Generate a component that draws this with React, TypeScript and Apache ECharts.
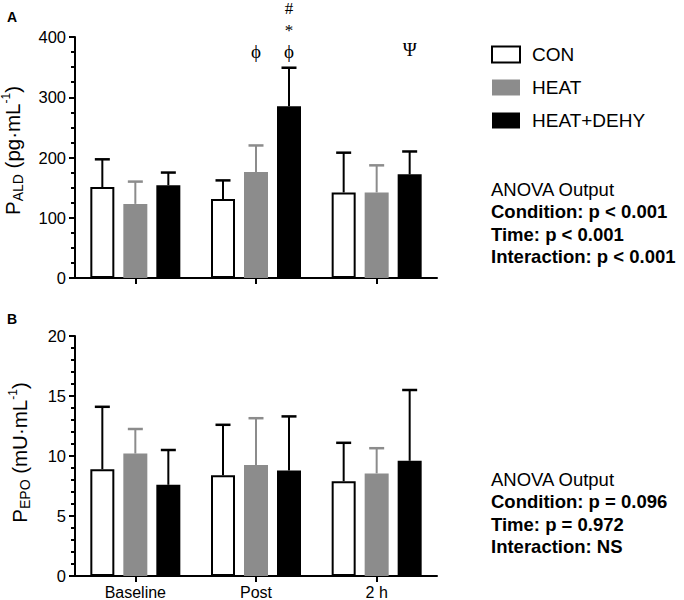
import React, { useEffect, useRef } from "react";
import * as echarts from "echarts";

// ---- data ----
const categories = ["Baseline", "Post", "2 h"];
const groups = ["CON", "HEAT", "HEAT+DEHY"];

// Panel A: plasma aldosterone (pg·mL-1), mean and SD
const aldCon = [151, 131, 142];
const aldHeat = [123, 176, 142];
const aldDehy = [154, 285, 172];
const aldConSd = [46, 31, 66];
const aldHeatSd = [37, 44, 45];
const aldDehySd = [21, 64, 38];

// Panel B: plasma EPO (mU·mL-1), mean and SD
const epoCon = [8.9, 8.4, 7.9];
const epoHeat = [10.2, 9.25, 8.55];
const epoDehy = [7.6, 8.8, 9.6];
const epoConSd = [5.2, 4.2, 3.2];
const epoHeatSd = [2.05, 3.9, 2.1];
const epoDehySd = [2.9, 4.5, 5.9];

// y-axis ticks
const aldTicks = { min: 0, max: 400, interval: 100 };
const epoTicks = { min: 0, max: 20, interval: 5 };

// significance symbols of panel A: category, group, level (axis units), symbol
const annoCat = [1, 1, 1, 1, 2];
const annoGroup = [1, 2, 2, 2, 2];
const annoLevel = [376, 376, 410, 447, 380];
const annoText = ["ϕ", "ϕ", "*", "#", "Ψ"];

const anovaA = ["ANOVA Output", "Condition: p < 0.001", "Time: p < 0.001", "Interaction: p < 0.001"];
const anovaB = ["ANOVA Output", "Condition: p = 0.096", "Time: p = 0.972", "Interaction: NS"];

// ---- styles ----
const SANS = "'Liberation Sans', Arial, Helvetica, sans-serif";
const SERIF = "'Liberation Serif', 'DejaVu Serif', 'Times New Roman', serif";
const GREY = "#8c8c8c";
const fills = ["#ffffff", GREY, "#000000"];
const errColors = ["#000000", GREY, "#000000"];
const BAR_W = 24;
const BAR_GAP = 9;
const offsets = [-(BAR_W + BAR_GAP), 0, BAR_W + BAR_GAP];

export default function App() {
  const ref = useRef<HTMLDivElement>(null);

  useEffect(() => {
    if (!ref.current) return;
    const chart = echarts.init(ref.current, undefined, { renderer: "svg" });

    const means = [
      [aldCon, aldHeat, aldDehy],
      [epoCon, epoHeat, epoDehy],
    ];
    const sds = [
      [aldConSd, aldHeatSd, aldDehySd],
      [epoConSd, epoHeatSd, epoDehySd],
    ];

    const series: any[] = [];
    for (let p = 0; p < 2; p++) {
      for (let g = 0; g < 3; g++) {
        series.push({
          type: "bar",
          name: groups[g],
          xAxisIndex: p,
          yAxisIndex: p,
          data: means[p][g],
          barWidth: BAR_W,
          barGap: `${(BAR_GAP / BAR_W) * 100}%`,
          itemStyle: {
            color: fills[g],
            borderColor: g === 0 ? "#000" : fills[g],
            borderWidth: g === 0 ? 2 : 0,
          },
          emphasis: { disabled: true },
        });
      }
      for (let g = 0; g < 3; g++) {
        const off = offsets[g];
        const col = errColors[g];
        series.push({
          type: "custom",
          name: `err-${p}-${g}`,
          xAxisIndex: p,
          yAxisIndex: p,
          z: 3,
          data: categories.map((_, i) => [i, means[p][g][i], means[p][g][i] + sds[p][g][i]]),
          renderItem: (params: any, api: any) => {
            const base = api.coord([api.value(0), api.value(1)]);
            const top = api.coord([api.value(0), api.value(2)]);
            const cx = base[0] + off;
            return {
              type: "group",
              children: [
                {
                  type: "line",
                  shape: { x1: cx, y1: base[1], x2: cx, y2: top[1] },
                  style: { stroke: col, lineWidth: 2 },
                },
                {
                  type: "line",
                  shape: { x1: cx - 7.5, y1: top[1], x2: cx + 7.5, y2: top[1] },
                  style: { stroke: col, lineWidth: 2.5 },
                },
              ],
            };
          },
        });
      }
    }

    series.push({
      type: "custom",
      name: "annotations",
      xAxisIndex: 0,
      yAxisIndex: 0,
      clip: false,
      z: 4,
      data: annoCat.map((c, i) => [c, annoLevel[i]]),
      renderItem: (params: any, api: any) => {
        const i = params.dataIndex;
        const pt = api.coord([api.value(0), api.value(1)]);
        const t = annoText[i];
        return {
          type: "text",
          x: pt[0] + offsets[annoGroup[i]],
          y: pt[1],
          style: {
            text: t,
            fontFamily: SERIF,
            fontSize: t === "#" || t === "*" ? 17 : 19,
            fill: "#000000",
            align: "center",
            verticalAlign: "middle",
          },
        };
      },
    });

    const xAxisBase = (grid: number, showLabel: boolean) => ({
      type: "category",
      gridIndex: grid,
      data: categories,
      axisLine: { lineStyle: { color: "#000", width: 2 } },
      axisTick: { show: true, alignWithLabel: true, length: 6, lineStyle: { color: "#000", width: 2 } },
      axisLabel: {
        show: showLabel,
        color: "#000",
        fontFamily: SANS,
        fontSize: 16,
        margin: 8,
      },
      splitLine: { show: false },
    });

    const makeRich = (lead: number) => ({
      a: { fontSize: 20.5, fontFamily: SANS, color: "#000", lineHeight: 25 },
      p: { fontSize: 20.5, fontFamily: SANS, color: "#000", lineHeight: 25, padding: [0, 0, 0, lead] },
      b: { fontSize: 14, fontFamily: SANS, color: "#000", lineHeight: 10, verticalAlign: "bottom" },
      c: { fontSize: 12, fontFamily: SANS, color: "#000", lineHeight: 10, verticalAlign: "top" },
    });

    const yAxisBase = (grid: number, t: any, name: string, split: number, gap: number, lead: number) => ({
      type: "value",
      gridIndex: grid,
      min: t.min,
      max: t.max,
      interval: t.interval,
      name,
      nameLocation: "middle",
      nameRotate: 90,
      nameGap: gap,
      nameTextStyle: { rich: makeRich(lead) },
      axisLine: { show: true, lineStyle: { color: "#000", width: 2 } },
      axisTick: { show: true, length: 6, lineStyle: { color: "#000", width: 2 } },
      minorTick: { show: true, splitNumber: split, length: 4, lineStyle: { color: "#000", width: 2 } },
      axisLabel: { color: "#000", fontFamily: SANS, fontSize: 16.5, margin: 9 },
      splitLine: { show: false },
      minorSplitLine: { show: false },
    });

    const lineH = 22.3;
    const anovaTexts = (lines: string[], top: number) =>
      lines.map((t, i) => ({
        type: "text",
        left: 491,
        top: top + i * lineH,
        style: {
          text: t,
          fontFamily: SANS,
          fontSize: 18.5,
          fontWeight: i === 0 ? "normal" : "bold",
          fill: "#000",
        },
      }));

    chart.setOption({
      animation: false,
      backgroundColor: "#fff",
      grid: [
        { left: 75, top: 37, width: 362, height: 241, containLabel: false, outerBoundsMode: "none" },
        { left: 75, top: 336, width: 362, height: 240, containLabel: false, outerBoundsMode: "none" },
      ],
      xAxis: [xAxisBase(0, false), xAxisBase(1, true)],
      yAxis: [
        yAxisBase(0, aldTicks, "{p|P}{b|ALD}{a| (pg·mL}{c|-1}{a|)}", 4, 50, 14),
        yAxisBase(1, epoTicks, "{p|P}{b|EPO}{a| (mU·mL}{c|-1}{a|)}", 5, 43, 7),
      ],
      legend: {
        data: groups,
        orient: "vertical",
        left: 491,
        top: 45,
        padding: 0,
        icon: "rect",
        itemWidth: 28,
        itemHeight: 16,
        itemGap: 14,
        selectedMode: false,
        textStyle: { fontSize: 19, fontFamily: SANS, color: "#000", padding: [0, 0, 0, 7] },
      },
      graphic: [
        { type: "text", left: 7, top: 10, style: { text: "A", fontFamily: SANS, fontSize: 14, fontWeight: "bold", fill: "#000" } },
        { type: "text", left: 7, top: 312, style: { text: "B", fontFamily: SANS, fontSize: 14, fontWeight: "bold", fill: "#000" } },
        ...anovaTexts(anovaA, 180),
        ...anovaTexts(anovaB, 470),
      ],
      series,
    });

    return () => chart.dispose();
  }, []);

  return (
    <div
      ref={ref}
      style={{ position: "absolute", left: 0, top: 0, width: 684, height: 600 }}
    />
  );
}
